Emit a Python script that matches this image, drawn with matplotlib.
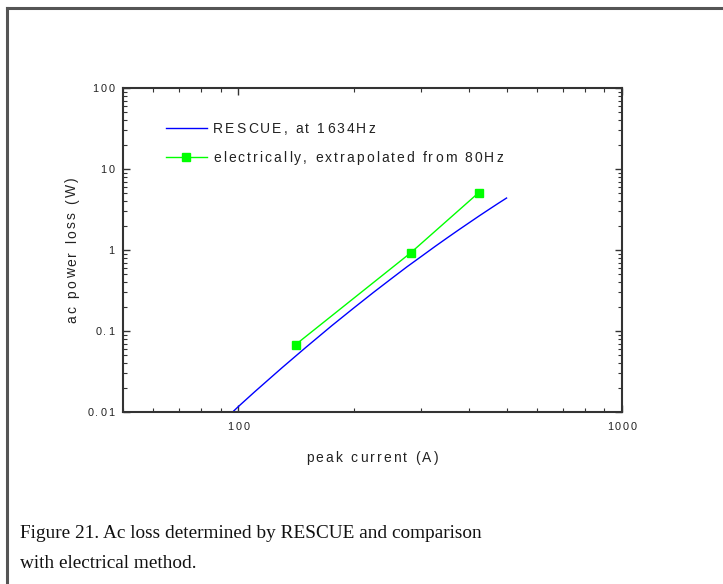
import numpy as np
import matplotlib
matplotlib.use("Agg")
import matplotlib.pyplot as plt
from matplotlib.ticker import LogLocator, NullFormatter
from matplotlib.lines import Line2D
from matplotlib.transforms import IdentityTransform
from matplotlib.font_manager import FontProperties, findfont, get_font

# RESCUE computed loss at 1634 Hz
rescue_current = [97, 100, 110, 120, 130, 150, 175, 200, 225, 250, 275,
                  300, 325, 350, 375, 400, 425, 450, 475, 500]
rescue_loss = [0.0102, 0.0117, 0.0176, 0.0253, 0.0353, 0.063, 0.116, 0.193,
               0.30, 0.44, 0.62, 0.835, 1.10, 1.41, 1.77, 2.18, 2.65,
               3.17, 3.75, 4.38]

# electrical measurement, extrapolated from 80 Hz
elec_current = [141, 281, 423]
elec_loss = [0.068, 0.92, 5.1]

x_ticks = [100, 1000]
x_tick_labels = ["100", "1000"]
y_ticks = [0.01, 0.1, 1, 10, 100]
y_tick_labels = ["0.01", "0.1", "1", "10", "100"]

legend_labels = ["RESCUE, at 1634Hz", "electrically, extrapolated from 80Hz"]
caption = ["Figure 21. Ac loss determined by RESCUE and comparison",
           "with electrical method."]

W, H, DPI = 723, 584, 100
SANS = "Liberation Sans"
TXT = "#222222"
BLUE = "#0000ff"
GREEN = "#00ff00"

fig = plt.figure(figsize=(W / DPI, H / DPI), dpi=DPI)
ax = fig.add_axes([123 / W, 1 - 412 / H, (622 - 123) / W, (412 - 88) / H])


def spaced_text(x, y, s, size, ha="left", vertical=False, spacing=2.2):
    """Letter-spaced text, x/y in pixels from top-left, y = baseline."""
    font = get_font(findfont(FontProperties(family=SANS)))
    font.set_size(size, DPI)
    hf = matplotlib.rcParams["text.hinting_factor"]
    adv = [font.load_char(ord(c)).linearHoriAdvance / 65536.0 for c in s]
    # guard against hinting-factor scaled metrics
    em = size * DPI / 72
    if max(adv) > 2 * em:
        adv = [a / hf for a in adv]
    total = sum(adv) + spacing * (len(s) - 1)
    pos = {"left": 0.0, "center": -total / 2, "right": -total}[ha]
    for c, a in zip(s, adv):
        if c != " ":
            if vertical:
                fig.text(x, H - (y - pos), c, transform=IdentityTransform(),
                         rotation=90, rotation_mode="anchor", ha="left",
                         va="baseline", fontsize=size, family=SANS, color=TXT)
            else:
                fig.text(x + pos, H - y, c, transform=IdentityTransform(),
                         ha="left", va="baseline", fontsize=size,
                         family=SANS, color=TXT)
        pos += a + spacing


ax.plot(rescue_current, rescue_loss, color=BLUE, lw=1.0)
ax.plot(elec_current, elec_loss, color=GREEN, lw=1.0, marker="s",
        markersize=5.2, markeredgecolor=GREEN)

ax.set_xscale("log")
ax.set_yscale("log")
ax.set_xlim(50, 1000)
ax.set_ylim(0.01, 100)
ax.set_xticks(x_ticks)
ax.set_yticks(y_ticks)
for axis in (ax.xaxis, ax.yaxis):
    axis.set_minor_locator(LogLocator(base=10, subs=np.arange(2, 10)))
    axis.set_minor_formatter(NullFormatter())

spine_col = "#333333"
for s in ax.spines.values():
    s.set_color(spine_col)
    s.set_linewidth(1.5)
ax.tick_params(which="both", direction="in", top=True, right=True,
               color=spine_col, labelbottom=False, labelleft=False)
ax.tick_params(which="major", length=4.8, width=1.0)
ax.tick_params(which="minor", length=3.0, width=0.8)

# tick labels (letter-spaced like the original)
tick_size = 7.8
cap_tick = 0.716 * tick_size * DPI / 72
for v, lab in zip(x_ticks, x_tick_labels):
    xd, _ = ax.transData.transform((v, 0.01))
    spaced_text(xd, 426 + cap_tick / 2, lab, tick_size, ha="center",
                spacing=2.0)
for v, lab in zip(y_ticks, y_tick_labels):
    _, yd = ax.transData.transform((50, v))
    spaced_text(114.5, (H - yd) + cap_tick / 2, lab, tick_size, ha="right",
                spacing=2.0)

# axis labels
lab_size = 10
cap_lab = 0.716 * lab_size * DPI / 72
spaced_text(372, 457 + cap_lab / 2, "peak current (A)", lab_size, ha="center")
spaced_text(71 + cap_lab / 2, 250, "ac power loss (W)", lab_size,
            ha="center", vertical=True)

# legend
rows_y = [128, 157]
styles = [dict(color=BLUE, lw=1.0),
          dict(color=GREEN, lw=1.0, marker="s", markersize=5.2,
               markeredgecolor=GREEN, markevery=[1])]
for ry, lab, st in zip(rows_y, legend_labels, styles):
    fig.add_artist(Line2D([166, 186, 207], [H - ry] * 3,
                          transform=IdentityTransform(), **st))
    spaced_text(213, ry + cap_lab / 2, lab, lab_size, spacing=2.1)

# caption
for i, line in enumerate(caption):
    fig.text(20 / W, 1 - (534 + 30 * i) / H, line, fontsize=13.9,
             family="Liberation Serif", color="#111111", va="center",
             ha="left")

# frame lines around the figure block (top and left only visible)
fig.add_artist(Line2D([7 / W, 1], [1 - 8 / H, 1 - 8 / H],
                      transform=fig.transFigure, color="#555555", lw=2.2))
fig.add_artist(Line2D([7 / W, 7 / W], [0, 1 - 8 / H],
                      transform=fig.transFigure, color="#555555", lw=2.2))

fig.savefig("out.png", dpi=DPI)
